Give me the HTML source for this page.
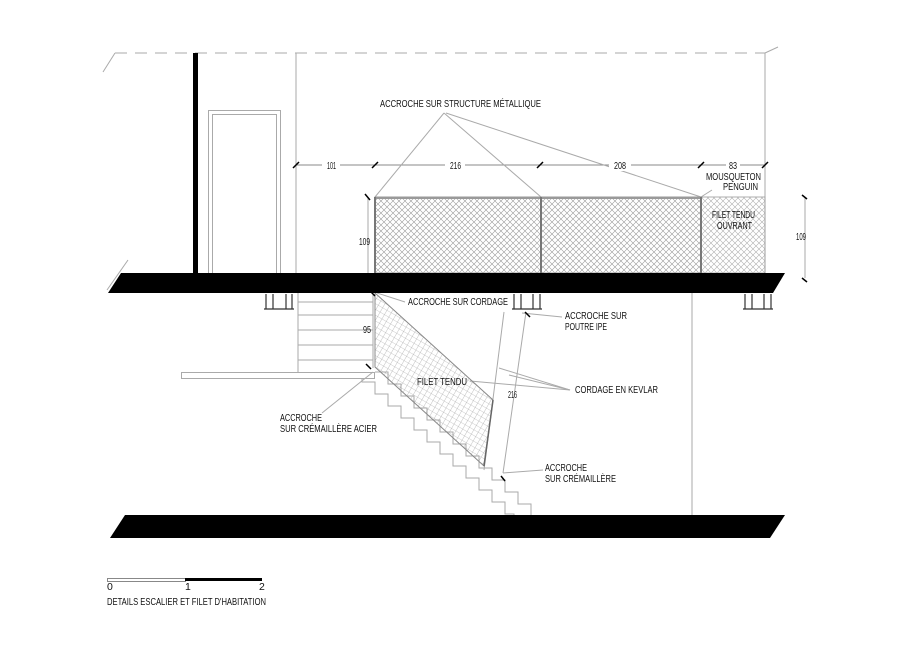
<!DOCTYPE html>
<html><head><meta charset="utf-8"><style>
html,body{margin:0;padding:0;background:#fff}
svg{display:block}
text{font-family:"Liberation Sans",sans-serif;font-size:10.5px;fill:#111}
</style></head><body>
<svg width="919" height="650" viewBox="0 0 919 650" xmlns="http://www.w3.org/2000/svg">
<defs>
<pattern id="h" width="6" height="6" patternUnits="userSpaceOnUse">
<path d="M0,0 L6,6 M6,0 L0,6" stroke="#999" stroke-width="0.6"/>
</pattern>
<pattern id="h2" width="5" height="5" patternUnits="userSpaceOnUse" patternTransform="rotate(30)">
<path d="M0,0 L5,0 M0,0 L0,5" stroke="#999" stroke-width="0.6"/>
</pattern>
</defs>
<g stroke="#aaa" stroke-width="1" fill="none">
<line x1="115" y1="53" x2="765" y2="53" stroke-dasharray="12,8"/>
<line x1="115" y1="53" x2="103" y2="72"/>
<line x1="765" y1="53" x2="778" y2="47"/>
<line x1="765" y1="53" x2="765" y2="273"/>
<line x1="296" y1="53" x2="296" y2="273"/>
<rect x="208.5" y="110.5" width="72" height="163"/>
<rect x="212.5" y="114.5" width="64" height="159"/>
<line x1="128" y1="260" x2="107" y2="290"/>
<line x1="692" y1="293" x2="692" y2="515"/>
<line x1="296" y1="165" x2="765" y2="165" stroke="#888"/>
<line x1="368" y1="197" x2="368" y2="273"/>
<line x1="805" y1="197" x2="805" y2="278"/>
<line x1="373" y1="293" x2="373" y2="368"/>
<line x1="444" y1="113" x2="375" y2="197"/>
<line x1="444" y1="113" x2="541" y2="197"/>
<line x1="446" y1="113" x2="701" y2="197"/>
<line x1="701" y1="197" x2="712" y2="190"/>
<line x1="377" y1="293" x2="405" y2="302"/>
<line x1="522" y1="313" x2="562" y2="317"/>
<line x1="470" y1="381" x2="570" y2="390"/>
<line x1="499" y1="368" x2="570" y2="390"/>
<line x1="509" y1="375" x2="570" y2="390"/>
<line x1="373" y1="372" x2="322" y2="413"/>
<line x1="503" y1="473" x2="543" y2="470"/>
<path d="M298,293 V372 M298,302 H373 M298,315 H373 M298,330 H373 M298,345 H373 M298,360 H373"/>
<rect x="181.5" y="372.5" width="193" height="6"/>
<path d="M375,372 h13 v12 h13 v12 h13 v12 h13 v12 h13 v12 h13 v12 h13 v12 h13 v12 h13 v12 h13 v12 h13 v12 h13 v11"/>
<path d="M362,378 v4 h13 v12 h13 v12 h13 v12 h13 v12 h13 v12 h13 v12 h13 v12 h13 v12 h13 v12 h13 v12 h13 v12 h9 v10"/>
<line x1="504" y1="312" x2="484" y2="470"/>
<line x1="526" y1="312" x2="503" y2="473"/>
</g>
<rect x="375" y="197" width="326" height="76" fill="url(#h)" stroke="#999"/>
<rect x="701" y="197" width="64" height="76" fill="url(#h)" stroke="#999" opacity="0.8"/>
<line x1="375" y1="198" x2="701" y2="198" stroke="#999" stroke-width="2"/>
<line x1="375" y1="197" x2="375" y2="273" stroke="#777" stroke-width="2"/>
<line x1="541" y1="197" x2="541" y2="273" stroke="#777" stroke-width="2"/>
<line x1="701" y1="197" x2="701" y2="273" stroke="#777" stroke-width="2"/>
<polygon points="375,293 375,367 484,466 493,400" fill="url(#h2)" stroke="#888"/>
<line x1="493" y1="400" x2="484" y2="466" stroke="#666" stroke-width="1.5"/>
<rect x="193" y="53" width="5" height="220" fill="#000"/>
<polygon points="121,273 785,273 773,293 108,293" fill="#000"/>
<polygon points="125,515 785,515 770,538 110,538" fill="#000"/>
<g stroke="#333" stroke-width="1.2" fill="none">
<path d="M266,294 v15 M292,294 v15 M273,294 v15 M286,294 v15 M264,309 h30"/>
<path d="M514,294 v15 M540,294 v15 M521,294 v15 M533,294 v15 M512,309 h30"/>
<path d="M745,294 v15 M771,294 v15 M752,294 v15 M764,294 v15 M743,309 h30"/>
</g>
<g stroke="#000" stroke-width="1.5">
<line x1="293" y1="168" x2="299" y2="162"/>
<line x1="372" y1="168" x2="378" y2="162"/>
<line x1="537" y1="168" x2="543" y2="162"/>
<line x1="698" y1="168" x2="704" y2="162"/>
<line x1="762" y1="168" x2="768" y2="162"/>
<line x1="365" y1="194" x2="370" y2="200"/>
<line x1="802" y1="195" x2="807" y2="199"/>
<line x1="802" y1="278" x2="807" y2="282"/>
<line x1="370" y1="291" x2="375" y2="296"/>
<line x1="366" y1="364" x2="371" y2="369"/>
<line x1="525" y1="312" x2="530" y2="317"/>
<line x1="501" y1="476" x2="505" y2="481"/>
</g>
<g>
<rect x="322" y="159" width="18" height="12" fill="#fff"/>
<rect x="445" y="159" width="20" height="12" fill="#fff"/>
<rect x="609" y="159" width="22" height="12" fill="#fff"/>
<rect x="726" y="159" width="14" height="12" fill="#fff"/>
<text x="327" y="169" font-size="8" textLength="9" lengthAdjust="spacingAndGlyphs">101</text>
<text x="450" y="169" font-size="8" textLength="11" lengthAdjust="spacingAndGlyphs">216</text>
<text x="614" y="169" font-size="8" textLength="12" lengthAdjust="spacingAndGlyphs">208</text>
<text x="729" y="169" font-size="8" textLength="8" lengthAdjust="spacingAndGlyphs">83</text>
<text x="359" y="245" font-size="8" textLength="11" lengthAdjust="spacingAndGlyphs">109</text>
<text x="796" y="240" font-size="8" textLength="10" lengthAdjust="spacingAndGlyphs">109</text>
<text x="363" y="333" font-size="8" textLength="8" lengthAdjust="spacingAndGlyphs">95</text>
<text x="508" y="398" font-size="8" textLength="9" lengthAdjust="spacingAndGlyphs">216</text>
<text x="380" y="107" textLength="161" lengthAdjust="spacingAndGlyphs">ACCROCHE SUR STRUCTURE MÉTALLIQUE</text>
<text x="706" y="180" textLength="55" lengthAdjust="spacingAndGlyphs">MOUSQUETON</text>
<text x="723" y="190" textLength="35" lengthAdjust="spacingAndGlyphs">PENGUIN</text>
<text x="712" y="218" textLength="43" lengthAdjust="spacingAndGlyphs">FILET TENDU</text>
<text x="717" y="229" textLength="35" lengthAdjust="spacingAndGlyphs">OUVRANT</text>
<text x="408" y="305" textLength="100" lengthAdjust="spacingAndGlyphs">ACCROCHE SUR CORDAGE</text>
<text x="565" y="319" textLength="62" lengthAdjust="spacingAndGlyphs">ACCROCHE SUR</text>
<text x="565" y="330" textLength="42" lengthAdjust="spacingAndGlyphs">POUTRE IPE</text>
<text x="417" y="385" textLength="50" lengthAdjust="spacingAndGlyphs">FILET TENDU</text>
<text x="575" y="393" textLength="83" lengthAdjust="spacingAndGlyphs">CORDAGE EN KEVLAR</text>
<text x="280" y="421" textLength="42" lengthAdjust="spacingAndGlyphs">ACCROCHE</text>
<text x="280" y="432" textLength="97" lengthAdjust="spacingAndGlyphs">SUR CRÉMAILLÈRE ACIER</text>
<text x="545" y="471" textLength="42" lengthAdjust="spacingAndGlyphs">ACCROCHE</text>
<text x="545" y="482" textLength="71" lengthAdjust="spacingAndGlyphs">SUR CRÉMAILLÈRE</text>
</g>
<rect x="107.5" y="578.5" width="78" height="3" fill="#fff" stroke="#888"/>
<rect x="185" y="578" width="77" height="3" fill="#000"/>
<text x="107" y="590" font-size="8">0</text>
<text x="185" y="590" font-size="8">1</text>
<text x="259" y="590" font-size="8">2</text>
<text x="107" y="605" textLength="159" lengthAdjust="spacingAndGlyphs">DETAILS ESCALIER ET FILET D'HABITATION</text>
</svg>
</body></html>
